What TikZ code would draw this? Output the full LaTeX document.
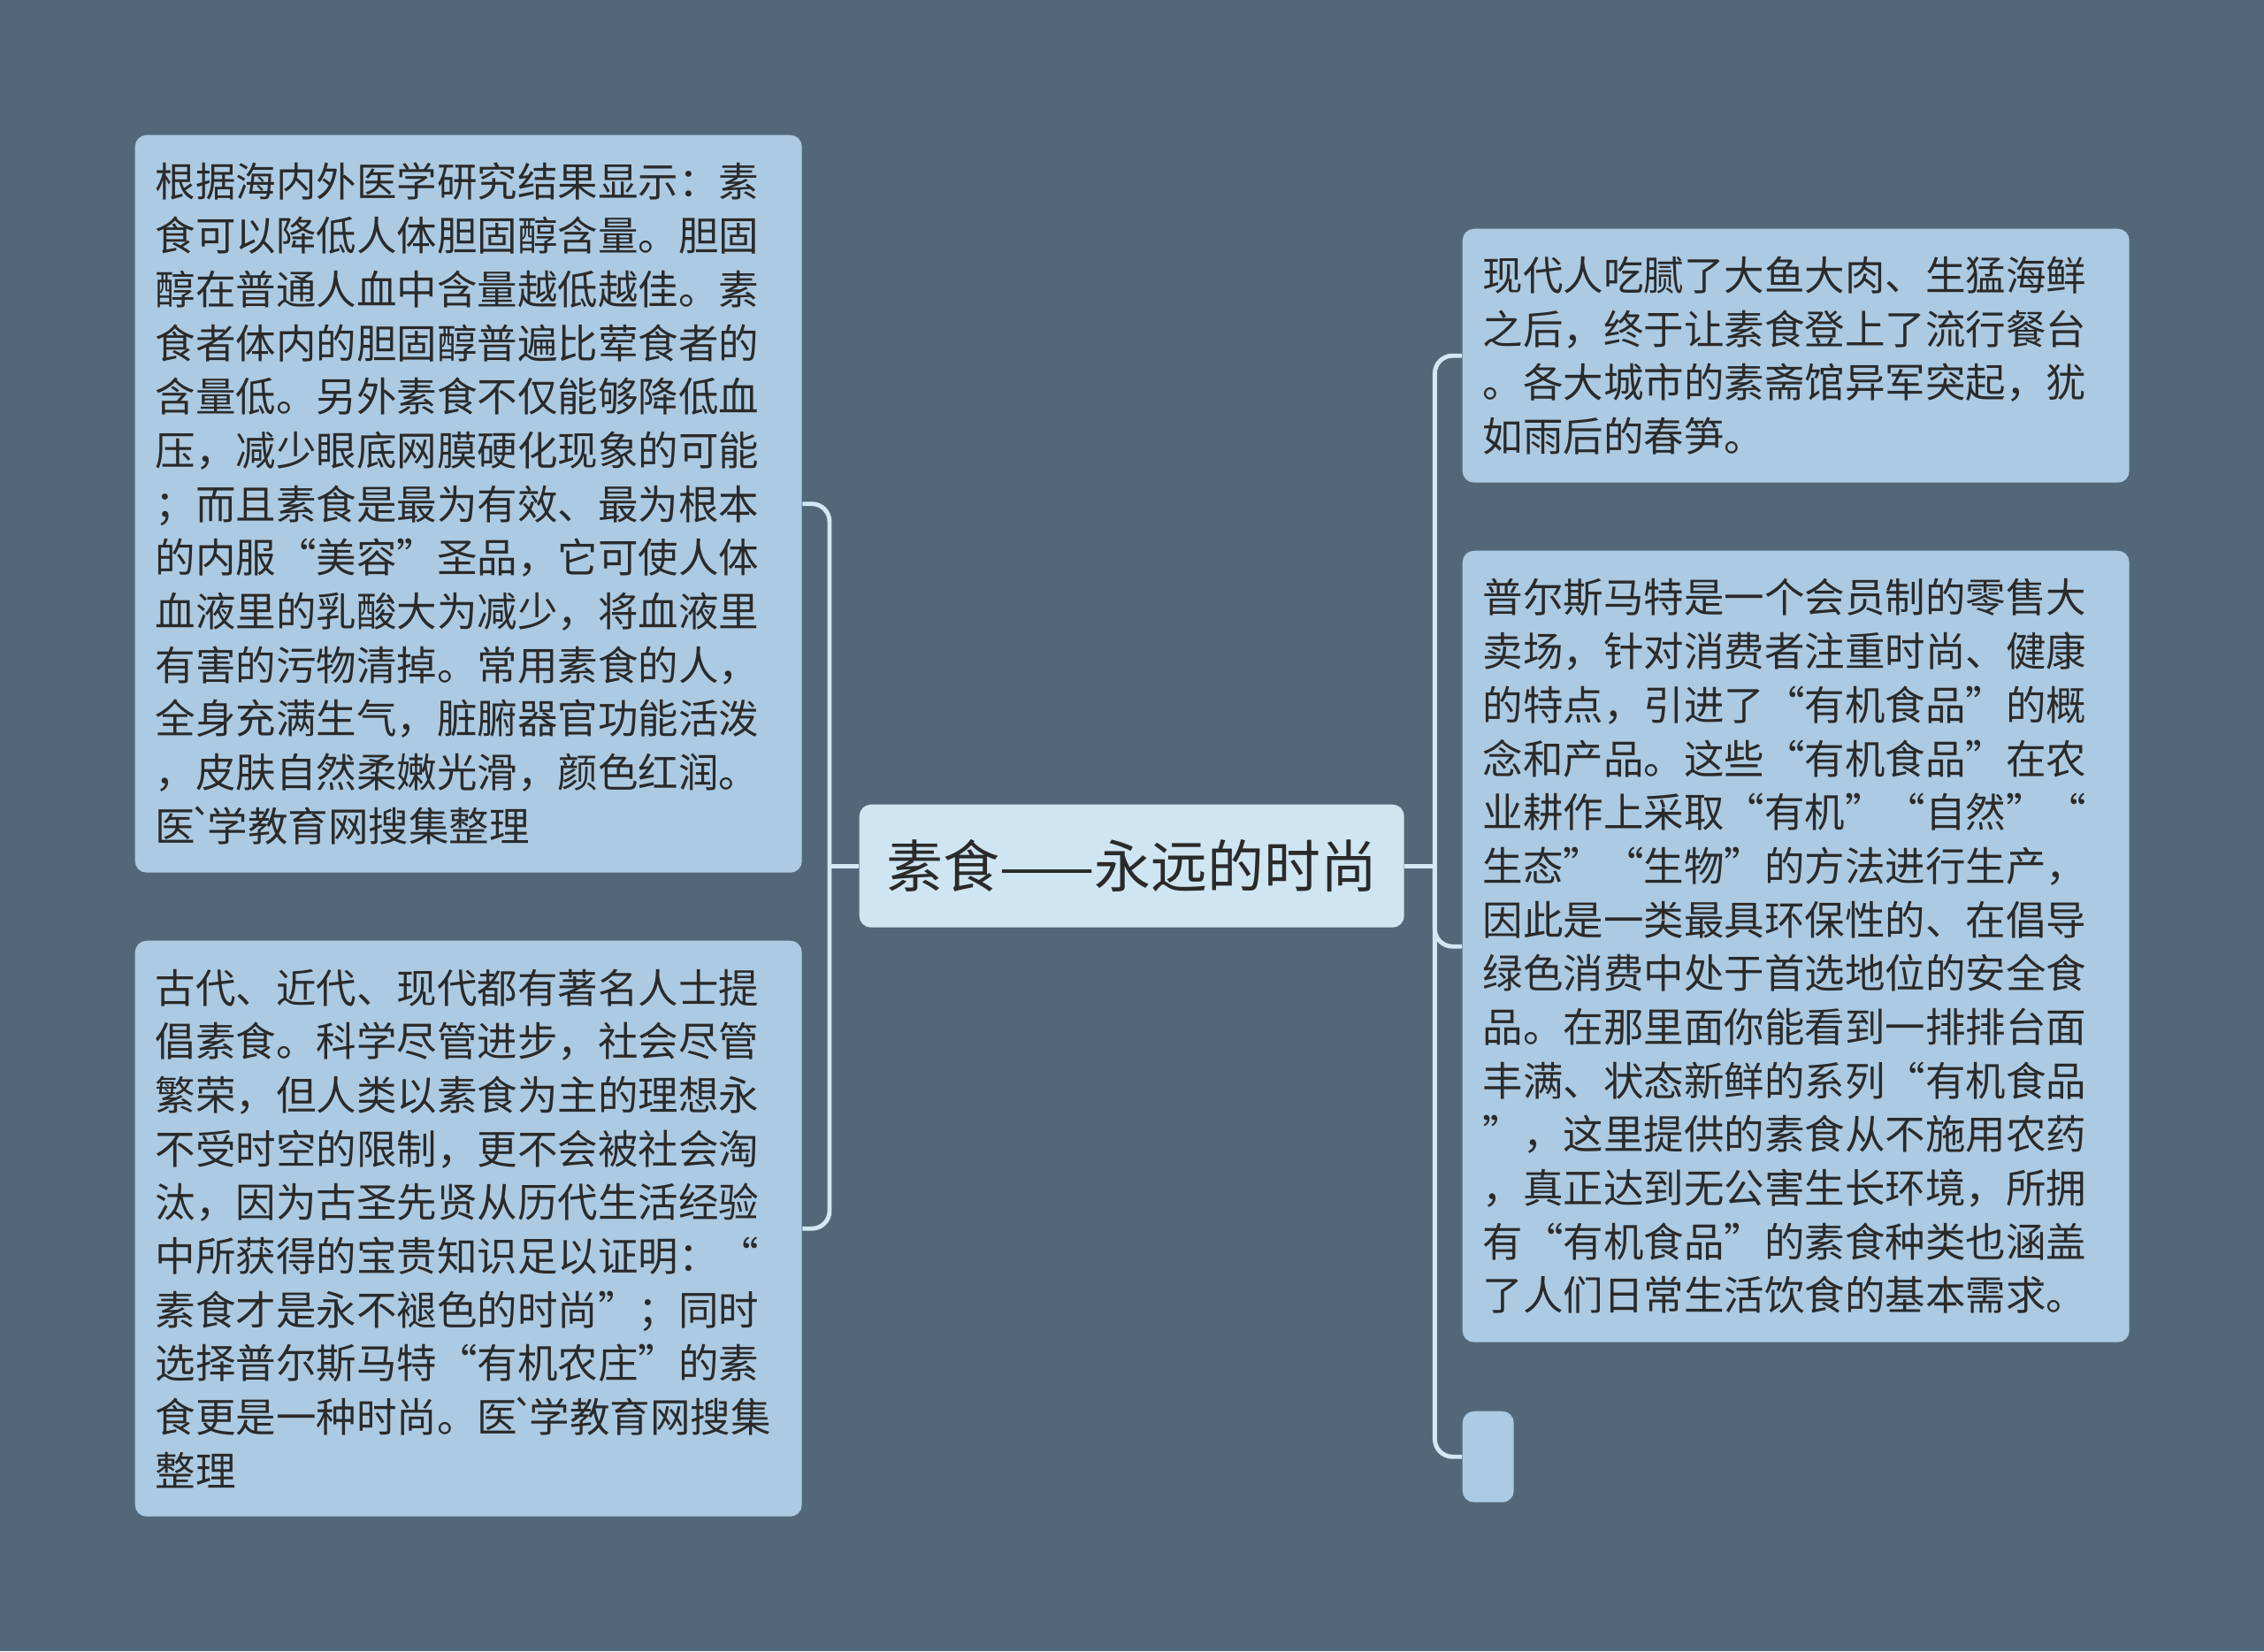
\documentclass[tikz,border=0pt]{standalone}
\usepackage{fontspec}
\setmainfont{Noto Sans CJK SC}[Ligatures=TeXOff]
\usepackage{xcolor}
\usepackage{tikz}
\usetikzlibrary{positioning,calc,backgrounds}

\definecolor{bgslate}{HTML}{526878}
\definecolor{leafblue}{HTML}{ACCAE2}
\definecolor{rootblue}{HTML}{CFE5F2}
\definecolor{linkblue}{HTML}{D2E8F4}
\definecolor{inkgray}{HTML}{2A2A2A}

% tight grave mark as printed in the source text
\newcommand{\gravemk}{\kern-0.07cm`\kern-0.07cm}

\begin{document}
\begin{tikzpicture}[
    leaf/.style={rectangle, fill=leafblue, rounded corners=0.13cm, anchor=north west, inner xsep=0.23cm, inner ysep=0pt, text width=7.08cm, align=left, text=inkgray, font=\fontsize{12.95}{17.27}\selectfont},
    root/.style={rectangle, fill=rootblue, rounded corners=0.13cm, anchor=north west, minimum width=6.16cm, minimum height=1.39cm, align=center, text=inkgray, font=\fontsize{18.2}{22}\selectfont},
    link/.style={draw=linkblue, line width=1.4pt, rounded corners=0.2cm}
]

    % --- Canvas ---
    \useasboundingbox (0,0) rectangle (25.6,-18.67);
    \fill[bgslate] (0,0) rectangle (25.6,-18.67);

    % --- Root ---
    \node[root] (ctr) at (9.71,-9.09) {素食——永远的时尚};

    % --- Left branches ---
    \node[leaf, minimum height=8.34cm] (l1) at (1.52,-1.52) {根据海内外医学研究结果显示：素\\食可以降低人体胆固醇含量。胆固\\醇在普通人血中含量越低越佳。素\\食者体内的胆固醇普遍比荤食者的\\含量低。另外素食不仅能够降低血\\压，减少眼底网膜硬化现象的可能\\；而且素食是最为有效、最为根本\\的内服“美容”圣品，它可使人体\\血液里的乳酸大为减少，将血液里\\有害的污物清掉。常用素食的人，\\全身充满生气，脏腑器官功能活泼\\，皮肤自然柔嫩光滑，颜色红润。\\医\gravemk 学教育网搜集整理};
    \node[leaf, minimum height=6.51cm] (l2) at (1.52,-10.63) {古代、近代、现代都有著名人士提\\倡素食。科学尽管进步，社会尽管\\繁荣，但人类以素食为主的理想永\\不受时空的限制，更不会被社会淘\\汰，因为古圣先贤从历代生活经验\\中所获得的宝贵知识足以证明：“\\素食才是永不褪色的时尚”；同时\\选择普尔斯马特“有机农庄”的素\\食更是一种时尚。医\gravemk 学教育网搜集\\整理};

    % --- Right branches ---
    \node[leaf, minimum height=2.87cm] (r1) at (16.53,-2.58) {现代人吃腻了大鱼大肉、生猛海鲜\\之后，终于让素食登上了流行餐台\\。各大城市的素斋馆异军突起，犹\\如雨后的春笋。};
    \node[leaf, minimum height=8.95cm] (r2) at (16.53,-6.22) {普尔斯马特是一个会员制的零售大\\卖场，针对消费者注重时尚、健康\\的特点，引进了“有机食品”的概\\念和产品。这些“有机食品”在农\\业耕作上采取“有机”“自然”“\\生态”“生物”的方法进行生产，\\因此是一类最具环保性的、在倡导\\绿色消费中处于首选地位的安全食\\品。在那里面你能看到一排排台面\\丰满、状态新鲜的系列“有机食品\\”，这里提供的素食从不施用农药\\，真正达到无公害生长环境，所拥\\有“有机食品”的素食种类也涵盖\\了人们日常生活饮食的基本需求。};
    \node[rectangle, fill=leafblue, rounded corners=0.13cm, anchor=north west, minimum width=0.58cm, minimum height=1.03cm, inner sep=0pt] (r3) at (16.53,-15.95) {};

    % --- Links ---
    \draw[link] (ctr.west) -- ++(-0.33,0) coordinate (lj);
    \draw[link] (lj) |- (l1.east);
    \draw[link] (lj) |- (l2.east);

    \draw[link] (ctr.east) -- ++(0.34,0) coordinate (rj);
    \draw[link] (rj) |- (r1.west);
    \draw[link] (rj) |- (r2.west);
    \draw[link] (rj) |- (r3.west);

\end{tikzpicture}
\end{document}
